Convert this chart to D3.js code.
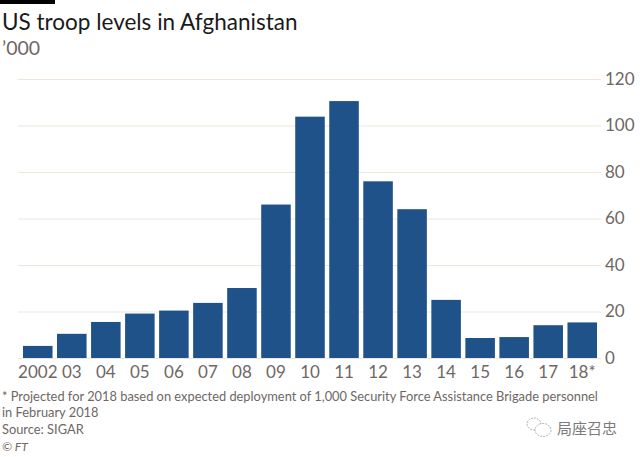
<!DOCTYPE html>
<html><head><meta charset="utf-8">
<script src="https://cdnjs.cloudflare.com/ajax/libs/d3/7.8.5/d3.min.js"></script>
<style>html,body{margin:0;padding:0;background:#fff}svg{display:block}text{font-family:Lato,sans-serif}</style>
</head><body>
<svg id="c" width="640" height="457"></svg>
<script>
const years=["2002","03","04","05","06","07","08","09","10","11","12","13","14","15","16","17","18*"];
const troops=[5.2,10.4,15.5,19.1,20.4,23.7,30.1,66,103.8,110.5,76,64,25,8.6,9,14.1,15.3];
const yTicks=[0,20,40,60,80,100,120];
const title="US troop levels in Afghanistan";
const subtitle="’000";
const notes=["* Projected for 2018 based on expected deployment of 1,000 Security Force Assistance Brigade personnel","in February 2018","Source: SIGAR"];
const svg=d3.select("#c");
const x=d3.scaleBand().domain(years).range([23,597]).paddingInner(0.132).paddingOuter(0);
const y=d3.scaleLinear().domain([0,120]).range([358,79]);
svg.append("rect").attr("x",0).attr("y",0).attr("width",55).attr("height",4).attr("fill","#000");
svg.append("text").attr("x",2).attr("y",29.5).attr("font-size",22.5).attr("fill","#1a1a1a").text(title);
svg.append("text").attr("x",2).attr("y",55).attr("font-size",19.5).attr("fill","#6e6763").text(subtitle);
const axisR=d3.axisRight(y).tickValues(yTicks).tickSize(0).tickPadding(0);
const gy=svg.append("g").attr("transform","translate(605,0)").call(axisR);
gy.select(".domain").remove();
gy.selectAll("text").attr("font-size",17).attr("fill","#6e6763").style("font-family","Lato,sans-serif");
svg.append("g").selectAll("line").data(yTicks).join("line")
 .attr("x1",18).attr("x2",601).attr("y1",d=>y(d)+0.5).attr("y2",d=>y(d)+0.5)
 .attr("stroke","#eee5db").attr("stroke-width",1);
svg.append("g").selectAll("rect").data(troops).join("rect")
 .attr("x",(d,i)=>x(years[i])).attr("width",x.bandwidth())
 .attr("y",d=>y(d)).attr("height",d=>y(0)-y(d)).attr("fill","#1f5289");
const gx=svg.append("g").attr("transform","translate(0,358.5)").call(d3.axisBottom(x).tickSize(0).tickPadding(7));
gx.select(".domain").remove();
gx.selectAll("text").attr("font-size",17).attr("fill","#6e6763").style("font-family","Lato,sans-serif");
svg.append("g").selectAll("text").data(notes).join("text")
 .attr("x",2).attr("y",(d,i)=>400.5+i*16.9).attr("font-size",12.85).attr("fill","#6e6763").text(d=>d);
svg.append("text").attr("x",2).attr("y",451).attr("font-size",12).attr("fill","#6e6763").attr("font-style","italic").text("© FT");
const wm=svg.append("g").attr("fill","#fff").attr("stroke","#9a9a9a").attr("stroke-width",0.8).attr("stroke-dasharray","2 1");
wm.append("ellipse").attr("cx",534).attr("cy",424).attr("rx",7).attr("ry",6);
wm.append("ellipse").attr("cx",543).attr("cy",430).attr("rx",8).attr("ry",6.5);
svg.append("text").attr("x",557).attr("y",434).attr("font-size",15).attr("fill","#7b7b7b").style("font-family","'Noto Sans CJK SC'").text("局座召忠");
</script>
</body></html>
